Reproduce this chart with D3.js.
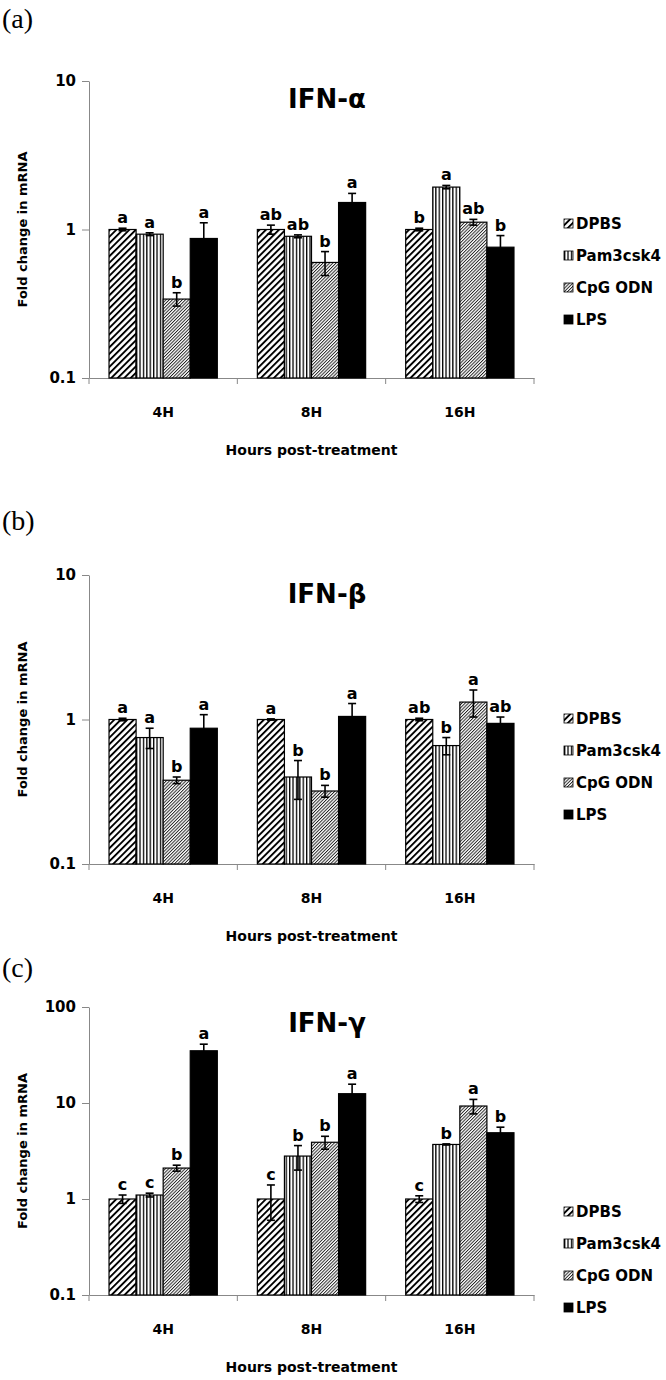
<!DOCTYPE html>
<html><head><meta charset="utf-8">
<script src="https://cdn.jsdelivr.net/npm/d3@7"></script>
<style>body{margin:0;background:#fff}svg{display:block}</style>
</head><body>
<svg id="chart" width="666" height="1380"></svg>
<script>
// ---------- data ----------
const groups = ["4H", "8H", "16H"];
const seriesNames = ["DPBS", "Pam3csk4", "CpG ODN", "LPS"];
const yTicksAB = [0.1, 1, 10];
const yTicksC = [0.1, 1, 10, 100];
const xTitle = "Hours post-treatment";
const yTitle = "Fold change in mRNA";

// IFN-alpha
const alphaDPBS = [1.00, 1.00, 1.00];
const alphaPam  = [0.93, 0.90, 1.93];
const alphaCpG  = [0.34, 0.60, 1.12];
const alphaLPS  = [0.87, 1.52, 0.76];
const alphaErrDPBS = [0.02, 0.07, 0.02];
const alphaErrPam  = [0.02, 0.02, 0.05];
const alphaErrCpG  = [0.035, 0.11, 0.05];
const alphaErrLPS  = [0.24, 0.23, 0.15];
const alphaLetDPBS = ["a", "ab", "b"];
const alphaLetPam  = ["a", "ab", "a"];
const alphaLetCpG  = ["b", "b", "ab"];
const alphaLetLPS  = ["a", "a", "b"];

// IFN-beta
const betaDPBS = [1.00, 1.00, 1.00];
const betaPam  = [0.75, 0.40, 0.66];
const betaCpG  = [0.38, 0.32, 1.32];
const betaLPS  = [0.87, 1.05, 0.94];
const betaErrDPBS = [0.02, 0.01, 0.02];
const betaErrPam  = [0.12, 0.12, 0.09];
const betaErrCpG  = [0.02, 0.03, 0.28];
const betaErrLPS  = [0.21, 0.24, 0.10];
const betaLetDPBS = ["a", "a", "ab"];
const betaLetPam  = ["a", "b", "b"];
const betaLetCpG  = ["b", "b", "a"];
const betaLetLPS  = ["a", "a", "ab"];

// IFN-gamma
const gammaDPBS = [1.00, 1.00, 1.00];
const gammaPam  = [1.10, 2.80, 3.70];
const gammaCpG  = [2.10, 3.90, 9.30];
const gammaLPS  = [35.0, 12.5, 4.90];
const gammaErrDPBS = [0.10, 0.40, 0.08];
const gammaErrPam  = [0.05, 0.80, 0.05];
const gammaErrCpG  = [0.15, 0.60, 1.60];
const gammaErrLPS  = [6.0, 3.2, 0.70];
const gammaLetDPBS = ["c", "c", "c"];
const gammaLetPam  = ["c", "b", "b"];
const gammaLetCpG  = ["b", "b", "a"];
const gammaLetLPS  = ["a", "a", "b"];

// ---------- drawing ----------
const svg = d3.select("#chart");
const FONT = "'DejaVu Sans', Verdana, sans-serif";
const defs = svg.append("defs");

function stripePattern(id, size, lineW, angle, color) {
  const p = defs.append("pattern").attr("id", id)
    .attr("patternUnits", "userSpaceOnUse")
    .attr("width", size).attr("height", size)
    .attr("patternTransform", `rotate(${angle})`);
  p.append("rect").attr("width", size).attr("height", size).attr("fill", "#fff");
  p.append("rect").attr("width", lineW).attr("height", size).attr("fill", color);
}
stripePattern("pDPBS", 4.6, 1.9, 45, "#000");
stripePattern("pPam", 3.4, 1.3, 0, "#000");
stripePattern("pCpG", 2.3, 0.95, 45, "#222");
const fills = {"DPBS": "url(#pDPBS)", "Pam3csk4": "url(#pPam)", "CpG ODN": "url(#pCpG)", "LPS": "#000"};

const panels = [
  {label: "(a)", title: "IFN-\u03B1", top: 81, bottom: 378, ticks: yTicksAB, labelY: 28, titleY: 108,
   legendY: 224, vals: [alphaDPBS, alphaPam, alphaCpG, alphaLPS],
   errs: [alphaErrDPBS, alphaErrPam, alphaErrCpG, alphaErrLPS],
   lets: [alphaLetDPBS, alphaLetPam, alphaLetCpG, alphaLetLPS]},
  {label: "(b)", title: "IFN-\u03B2", top: 575, bottom: 864, ticks: yTicksAB, labelY: 530, titleY: 603,
   legendY: 719, vals: [betaDPBS, betaPam, betaCpG, betaLPS],
   errs: [betaErrDPBS, betaErrPam, betaErrCpG, betaErrLPS],
   lets: [betaLetDPBS, betaLetPam, betaLetCpG, betaLetLPS]},
  {label: "(c)", title: "IFN-\u03B3", top: 1007, bottom: 1295, ticks: yTicksC, labelY: 977, titleY: 1032,
   legendY: 1212, vals: [gammaDPBS, gammaPam, gammaCpG, gammaLPS],
   errs: [gammaErrDPBS, gammaErrPam, gammaErrCpG, gammaErrLPS],
   lets: [gammaLetDPBS, gammaLetPam, gammaLetCpG, gammaLetLPS]}
];

const left = 89, right = 534;

panels.forEach(P => {
  const g = svg.append("g");
  const y = d3.scaleLog().domain([d3.min(P.ticks), d3.max(P.ticks)]).range([P.bottom, P.top]);
  const x = d3.scaleBand().domain(groups).range([left, right]).paddingInner(0.27).paddingOuter(0.135);
  const x1 = d3.scaleBand().domain(seriesNames).range([0, x.bandwidth()]);

  // panel label
  g.append("text").attr("x", 2).attr("y", P.labelY)
    .attr("font-family", "'Liberation Serif', 'Times New Roman', serif")
    .attr("font-size", 28).text(P.label);

  // title
  g.append("text").attr("x", 327).attr("y", P.titleY).attr("text-anchor", "middle")
    .attr("font-family", FONT).attr("font-weight", "bold").attr("font-size", 26)
    .text(P.title);

  // y axis
  const ya = g.append("g").attr("transform", `translate(${left},0)`)
    .call(d3.axisLeft(y).tickValues(P.ticks).tickFormat(d3.format("")).tickSize(7).tickSizeOuter(0).tickPadding(6));
  ya.select(".domain").attr("stroke", "#888");
  ya.selectAll(".tick line").attr("stroke", "#888");
  ya.selectAll(".tick text").attr("font-family", FONT).attr("font-weight", "bold")
    .attr("font-size", 15).attr("fill", "#000");

  // x axis
  const xa = g.append("g").attr("transform", `translate(0,${P.bottom})`)
    .call(d3.axisBottom(x).tickSize(0).tickSizeOuter(0).tickPadding(29));
  xa.select(".domain").attr("stroke", "#888");
  xa.selectAll(".tick text").attr("font-family", FONT).attr("font-weight", "bold")
    .attr("font-size", 14).attr("fill", "#000");
  const gap = (x.step() - x.bandwidth()) / 2;
  const bounds = d3.range(groups.length + 1).map(i => x(groups[0]) - gap + i * x.step());
  g.selectAll(".bt").data(bounds).join("line")
    .attr("x1", d => d).attr("x2", d => d)
    .attr("y1", P.bottom).attr("y2", P.bottom + 6)
    .attr("stroke", "#888");

  // axis titles
  g.append("text").attr("x", (left + right) / 2).attr("y", P.bottom + 77)
    .attr("text-anchor", "middle").attr("font-family", FONT).attr("font-weight", "bold")
    .attr("font-size", 14).text(xTitle);
  g.append("text").attr("transform", `translate(27,${(P.top + P.bottom) / 2}) rotate(-90)`)
    .attr("text-anchor", "middle").attr("font-family", FONT).attr("font-weight", "bold")
    .attr("font-size", 13).text(yTitle);

  // bars
  const rows = [];
  seriesNames.forEach((s, si) => groups.forEach((grp, gi) => {
    rows.push({s, grp, v: P.vals[si][gi], e: P.errs[si][gi], l: P.lets[si][gi]});
  }));
  const bw = x1.bandwidth();
  g.selectAll(".bar").data(rows).join("rect")
    .attr("x", d => x(d.grp) + x1(d.s))
    .attr("y", d => y(d.v))
    .attr("width", bw)
    .attr("height", d => P.bottom - y(d.v))
    .attr("fill", d => fills[d.s])
    .attr("stroke", "#000").attr("stroke-width", 1.2);

  // error bars
  const eg = g.selectAll(".err").data(rows).join("g")
    .attr("transform", d => `translate(${x(d.grp) + x1(d.s) + bw / 2},0)`);
  eg.append("line").attr("y1", d => y(d.v + d.e)).attr("y2", d => y(Math.max(d.v - d.e, 0.1001)))
    .attr("stroke", "#000").attr("stroke-width", 1.6);
  eg.append("line").attr("x1", -4).attr("x2", 4)
    .attr("y1", d => y(d.v + d.e)).attr("y2", d => y(d.v + d.e))
    .attr("stroke", "#000").attr("stroke-width", 1.6);
  eg.append("line").attr("x1", -4).attr("x2", 4)
    .attr("y1", d => y(d.v - d.e)).attr("y2", d => y(d.v - d.e))
    .attr("stroke", "#000").attr("stroke-width", 1.6);
  eg.append("text").attr("y", d => y(d.v + d.e) - 5).attr("text-anchor", "middle")
    .attr("font-family", FONT).attr("font-weight", "bold").attr("font-size", 16)
    .text(d => d.l);

  // legend
  const lg = g.selectAll(".lg").data(seriesNames).join("g")
    .attr("transform", (d, i) => `translate(564,${P.legendY + i * 32})`);
  lg.append("rect").attr("x", 0).attr("y", -5).attr("width", 9).attr("height", 9)
    .attr("fill", d => fills[d]).attr("stroke", "#000").attr("stroke-width", 0.8);
  lg.append("text").attr("x", 12).attr("y", 0).attr("dy", "0.36em")
    .attr("font-family", FONT).attr("font-weight", "bold").attr("font-size", 15)
    .text(d => d);
});
</script>
</body></html>
